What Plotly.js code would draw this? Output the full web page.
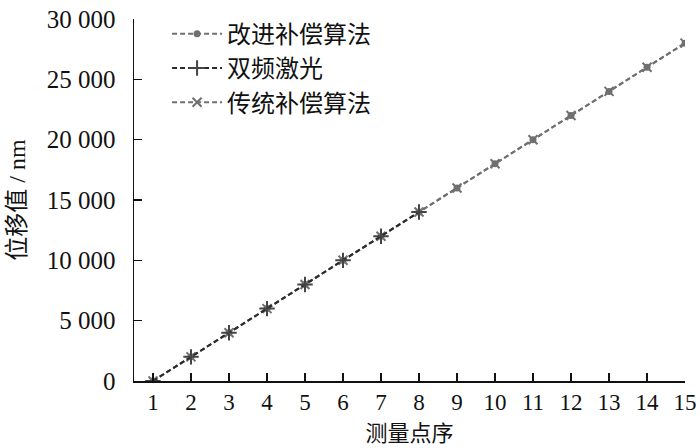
<!DOCTYPE html>
<html>
<head>
<meta charset="utf-8">
<script src="https://cdn.plot.ly/plotly-3.0.1.min.js"></script>
<style>
    html, body { margin: 0; padding: 0; background: #fff; }
    #chart { width: 700px; height: 448px; }
</style>
</head>
<body>
<div id="chart"></div>
<script>
// measurement points and displacement values (nm)
const points = [1, 2, 3, 4, 5, 6, 7, 8, 9, 10, 11, 12, 13, 14, 15]
const improved = [0, 2000, 4000, 6000, 8000, 10000, 12000, 14000, 16000, 18000, 20000, 22000, 24000, 26000, 28000]
const laserPoints = [1, 2, 3, 4, 5, 6, 7, 8]
const laser = [0, 2000, 4000, 6000, 8000, 10000, 12000, 14000]
const traditional = [0, 2000, 4000, 6000, 8000, 10000, 12000, 14000, 16000, 18000, 20000, 22000, 24000, 26000, 28000]

const yTicks = [0, 5000, 10000, 15000, 20000, 25000, 30000]
const yTickText = ["0", "5 000", "10 000", "15 000", "20 000", "25 000", "30 000"]

const fontFamily = "'Liberation Serif', 'Noto Sans CJK SC', serif"
const grey = "#707070"
const dark = "#2a2a2a"

const traces = [
    {
        type: "scatter",
        mode: "lines+markers",
        x: points,
        y: improved,
        name: "改进补偿算法",
        legendrank: 1,
        line: {color: grey, width: 2, dash: "5px,3px"},
        marker: {symbol: "circle", size: 7, color: grey}
    },
    {
        type: "scatter",
        mode: "lines+markers",
        x: points,
        y: traditional,
        name: "传统补偿算法",
        legendrank: 3,
        line: {color: grey, width: 2, dash: "5px,3px"},
        marker: {symbol: "x-thin", size: 9, color: grey, line: {color: grey, width: 2}}
    },
    {
        type: "scatter",
        mode: "lines+markers",
        x: laserPoints,
        y: laser,
        name: "双频激光",
        legendrank: 2,
        line: {color: dark, width: 2, dash: "5px,3px"},
        marker: {symbol: "cross-thin", size: 11, color: "#444", line: {color: "#444", width: 2}}
    }
]

const layout = {
    width: 700,
    height: 448,
    margin: {l: 134, r: 15, t: 19, b: 67},
    paper_bgcolor: "#fff",
    plot_bgcolor: "#fff",
    font: {family: fontFamily, size: 24, color: "#111"},
    showlegend: true,
    legend: {
        x: 0.06,
        y: 1.02,
        xanchor: "left",
        yanchor: "top",
        bgcolor: "rgba(0,0,0,0)",
        font: {family: "'Noto Sans CJK SC', sans-serif", size: 24, color: "#111"},
        tracegroupgap: 0,
        itemwidth: 50
    },
    xaxis: {
        range: [0.5, 15],
        tickvals: points,
        ticks: "inside",
        ticklen: 8,
        tickwidth: 1.5,
        tickcolor: "#111",
        showline: true,
        linecolor: "#111",
        linewidth: 1.5,
        showgrid: false,
        zeroline: false,
        tickfont: {family: fontFamily, size: 23},
        title: {text: "测量点序", font: {family: "'Noto Sans CJK SC', serif", size: 22}, standoff: 8}
    },
    yaxis: {
        range: [0, 30000],
        tickvals: yTicks,
        ticktext: yTickText,
        ticks: "inside",
        ticklen: 8,
        tickwidth: 1.5,
        tickcolor: "#111",
        ticklabelstandoff: 12,
        showline: true,
        linecolor: "#111",
        linewidth: 1.5,
        showgrid: false,
        zeroline: false,
        tickfont: {family: fontFamily, size: 25},
        title: {text: "位移值 / nm", font: {family: fontFamily, size: 24}, standoff: 14}
    }
}

Plotly.newPlot("chart", traces, layout, {staticPlot: true})
</script>
</body>
</html>
